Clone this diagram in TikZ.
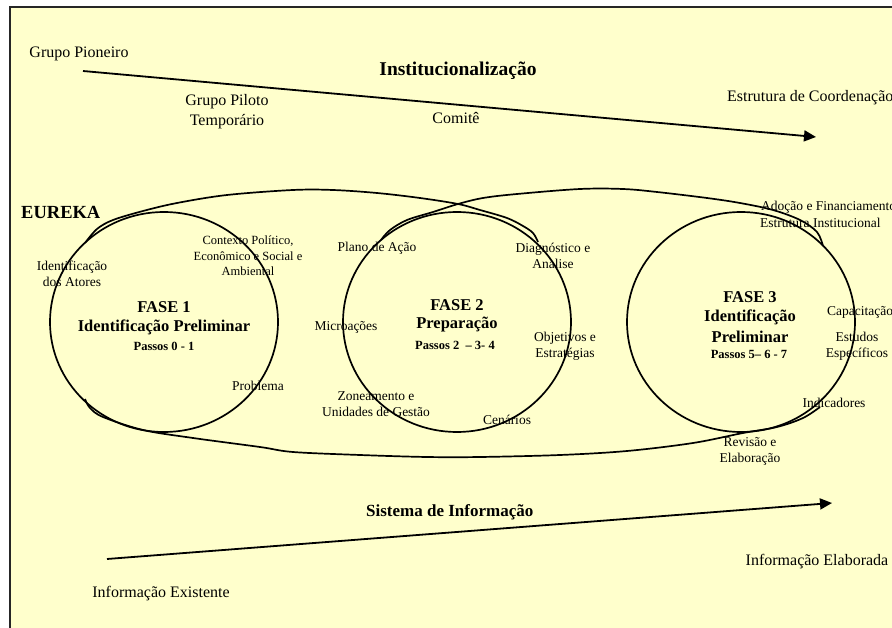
\documentclass[tikz,border=0pt]{standalone}
\usepackage{fontspec}
\setmainfont{Liberation Serif}
\usetikzlibrary{arrows.meta,shapes.geometric}
\definecolor{bgyellow}{HTML}{FFFFCC}
\begin{document}
\begin{tikzpicture}[x=1pt,y=-1pt,
  lbl/.style={font=\fontsize{16}{20}\selectfont, align=center, inner sep=0pt},
  sml/.style={font=\fontsize{13.5}{16}\selectfont, align=center, inner sep=0pt},
  tiny/.style={font=\fontsize{12.5}{15.5}\selectfont, align=center, inner sep=0pt},
  ttl/.style={font=\fontsize{19.5}{22}\selectfont\bfseries, inner sep=0pt},
  head/.style={font=\fontsize{16.5}{20}\selectfont\bfseries, align=center, inner sep=0pt},
  steps/.style={font=\fontsize{12.5}{15}\selectfont\bfseries, inner sep=0pt},
  phase/.style={draw, ellipse, line width=1.7pt, inner sep=0pt,
                minimum width=228pt, minimum height=220pt},
  flow/.style={line width=1.8pt, -{Triangle[length=12pt,width=11pt]}},
  outline/.style={line width=1.7pt, smooth, tension=0.55}]
\useasboundingbox (0,0) rectangle (892,628);
\fill[white] (0,0) rectangle (892,628);
\fill[bgyellow] (10,7) rectangle (892,628);
\draw[line width=2pt, black!85] (10,629) -- (10,7) -- (893,7);

% phases
\node[phase] (f1) at (164,322) {};
\node[phase] (f2) at (457,322) {};
\node[phase] (f3) at (741,322) {};

% EUREKA freehand outline
\draw[outline] plot coordinates {(85,243) (97,229) (113,220) (143,211) (177,203)
  (227,195) (293,190) (333,190) (377,193) (420,198) (458,204) (480,210)
  (507,218) (523,226) (533,233) (538,242)};
\draw[outline] plot coordinates {(381,240) (390,230) (407,220) (433,212) (458,204)
  (483,198) (517,194) (580,189) (623,189) (657,192) (707,198) (740,203)
  (773,210) (800,220) (817,232) (823,246)};
\draw[outline] plot coordinates {(85,399) (90,408) (103,417) (143,430) (193,438)
  (260,447) (293,452) (360,455) (427,457) (480,457) (560,455) (627,451)
  (693,443) (743,433) (777,427) (803,418) (820,407)};

% top flow
\coordinate (ts) at (83,71);
\coordinate (te) at (816,137);
\draw[flow] (ts) -- (te);
\node[lbl] (gpio) at (79,54) {Grupo Pioneiro};
\node[ttl] (inst) at (458,71) {Institucionalização};
\node[lbl] (gpil) at (227,112) {Grupo Piloto\\Temporário};
\node[lbl] (comi) at (456,118) {Comitê};
\node[lbl, anchor=west] (estc) at (727,98) {Estrutura de Coordenação};

% bottom flow
\coordinate (bs) at (107,559);
\coordinate (be) at (832,503);
\draw[flow] (bs) -- (be);
\node[font=\fontsize{17}{20}\selectfont\bfseries, inner sep=0pt, anchor=west] (sist) at (366,512) {Sistema de Informação};
\node[lbl] (iela) at (817,562) {Informação Elaborada};
\node[lbl] (iexi) at (161,594) {Informação Existente};

% EUREKA
\node[font=\fontsize{18.5}{22}\selectfont\bfseries, inner sep=0pt, anchor=west] (eur) at (21,212) {EUREKA};

% phase 1
\node[head] (p1a) at (164,307) {FASE 1};
\node[head] (p1b) at (164,327) {Identificação Preliminar};
\node[steps] (p1c) at (164,346) {Passos 0 - 1};
\node[sml] (idat) at (72,274) {Identificação\\dos Atores};
\node[tiny] (ctx) at (248,256) {Contexto Político,\\Econômico e Social e\\Ambiental};
\node[sml] (prob) at (258,386) {Problema};

% phase 2
\node[head] (p2a) at (457,305) {FASE 2};
\node[head] (p2b) at (457,325) {Preparação};
\node[steps] (p2c) at (455,345) {Passos 2 \ – 3- 4};
\node[sml] (plan) at (377,248) {Plano de Ação};
\node[sml] (micr) at (346,327) {Microações};
\node[sml] (zone) at (376,404) {Zoneamento e\\Unidades de Gestão};
\node[sml] (diag) at (553,256) {Diagnóstico e\\Analise};
\node[sml] (obje) at (565,346) {Objetivos e\\Estratégias};
\node[sml] (cena) at (507,420) {Cenários};

% phase 3
\node[head] (p3a) at (750,297) {FASE 3};
\node[head] (p3b) at (750,317) {Identificação};
\node[head] (p3c) at (750,337) {Preliminar};
\node[steps] (p3d) at (749,354) {Passos 5– 6 - 7};
\node[sml, anchor=west] (adoc) at (761,207) {Adoção e Financiamento};
\node[sml, anchor=west] (estr) at (760,223) {Estrutura Institucional};
\node[sml, anchor=west] (capa) at (827,312) {Capacitação};
\node[sml] (estu) at (857,346) {Estudos\\Específicos};
\node[sml] (indi) at (834,403) {Indicadores};
\node[sml] (revi) at (750,451) {Revisão e\\Elaboração};
\end{tikzpicture}
\end{document}
